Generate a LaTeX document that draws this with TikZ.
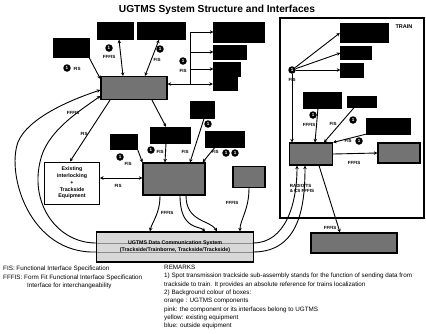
\documentclass[tikz,border=0pt]{standalone}
\usepackage{fontspec}
\setmainfont{Liberation Sans}
\usetikzlibrary{arrows.meta}
\begin{document}
\begin{tikzpicture}[x=1pt,y=-1pt,
  font=\fontsize{6.3}{8.3}\selectfont,
  blk/.style={draw=black,fill=black,inner sep=0pt},
  grb/.style={draw=black,line width=1.2pt,fill=black!55,inner sep=0pt},
  wbox/.style={draw=black,line width=1pt,fill=white,align=center,inner sep=1pt,font=\fontsize{5.3}{6.8}\selectfont\bfseries},
  num/.style={circle,fill=black,text=white,inner sep=0pt,minimum size=7.5pt,font=\fontsize{4.5}{4.5}\selectfont\bfseries},
  lbl/.style={inner sep=0.5pt,font=\fontsize{4.5}{5}\selectfont\bfseries},
  fl/.style={-{Stealth[length=3.5pt,width=3.5pt]},line width=0.9pt},
  fb/.style={{Stealth[length=3.5pt,width=3.5pt]}-{Stealth[length=3.5pt,width=3.5pt]},line width=0.9pt},
  ln/.style={line width=0.9pt}]
\useasboundingbox (0,0) rectangle (426,333);
\node[font=\fontsize{10.2}{11}\selectfont\bfseries] (title) at (217,10) {UGTMS System Structure and Interfaces};
% trackside
\node[blk,minimum width=36,minimum height=19] (a) at (71,48) {};
\node[blk,minimum width=36,minimum height=17] (b) at (115,31) {};
\node[blk,minimum width=48,minimum height=17] (c) at (161,31) {};
\node[grb,minimum width=66,minimum height=23] (g1) at (134,88) {};
\node[blk,minimum width=51,minimum height=20] (d) at (239,32) {};
\node[blk,minimum width=33,minimum height=14] (e) at (230,52) {};
\node[blk,minimum width=27,minimum height=14] (f) at (227,69) {};
\node[blk,minimum width=24,minimum height=13] (gb) at (225,84) {};
\node[wbox,minimum width=55,minimum height=42] (w) at (72,183) {Existing\\interlocking\\+\\Trackside\\Equipment};
\node[grb,minimum width=62,minimum height=32] (g3) at (174,179) {};
\node[blk,minimum width=40,minimum height=16] (h) at (170,135) {};
\node[blk,minimum width=27,minimum height=15] (i) at (124,142) {};
\node[blk,minimum width=24,minimum height=17] (j) at (202,110) {};
\node[blk,minimum width=39,minimum height=16] (k) at (225,139) {};
\node[grb,minimum width=32,minimum height=21] (l) at (249,177) {};
% train
\node[draw,line width=1.2pt,minimum width=144,minimum height=200,inner sep=0pt] (train) at (352,118) {};
\node[lbl,font=\fontsize{5.5}{6}\selectfont\bfseries] (trn) at (404,27) {TRAIN};
\node[blk,minimum width=48,minimum height=19] (m) at (364,33) {};
\node[blk,minimum width=31,minimum height=13] (n) at (356,53) {};
\node[blk,minimum width=23,minimum height=14] (o) at (352,70) {};
\node[grb,minimum width=43,minimum height=22] (g2) at (311,154) {};
\node[blk,minimum width=38,minimum height=16] (p) at (322,100) {};
\node[blk,minimum width=29,minimum height=11] (q) at (362,102) {};
\node[blk,minimum width=44,minimum height=16] (r) at (388,126) {};
\node[grb,minimum width=42,minimum height=20] (s) at (399,153) {};
\node[grb,minimum width=86,minimum height=20] (t) at (354,243) {};
% data communication system
\draw[ln] (96,243) -- (253,243);
\draw[ln] (96,252) -- (253,252);
\node[draw,line width=1.4pt,fill=black!22,fill opacity=0.7,text opacity=1,minimum width=157,minimum height=30,align=center,font=\fontsize{5.3}{6.8}\selectfont\bfseries] (dcs) at (175,247) {UGTMS Data Communication System\\(Trackside/Trainborne, Trackside/Trackside)};
% circled numbers
\node[num] (n1) at (67,68) {1};
\node[num] (n2) at (109,48) {1};
\node[num] (n3) at (160,49) {1};
\node[num] (n4) at (183,61) {1};
\node[num] (n5) at (120,157) {1};
\node[num] (n6) at (151,150) {1};
\node[num] (n7) at (208,124) {1};
\node[num] (n8) at (226,153) {1};
\node[num] (n9) at (235,153) {1};
\node[num] (n10) at (292,70) {1};
\node[num] (n11) at (313,115) {1};
\node[num] (n12) at (353,120) {1};
\node[num] (n13) at (359,141) {1};
% labels
\node[lbl] at (77,69) {FIS};
\node[lbl] at (109,57) {FFFIS};
\node[lbl] at (157,60) {FIS};
\node[lbl] at (183,71) {FIS};
\node[lbl] at (73,113) {FFFIS};
\node[lbl] at (84,134) {FIS};
\node[lbl] at (118,186) {FIS};
\node[lbl] at (128,164) {FIS};
\node[lbl] at (160,152) {FIS};
\node[lbl] at (185,152) {FIS};
\node[lbl] at (215,152) {FIS};
\node[lbl] at (167,213) {FFFIS};
\node[lbl] at (232,203) {FFFIS};
\node[lbl] at (292,80) {FIS};
\node[lbl] at (309,125) {FFFIS};
\node[lbl] at (333,124) {FIS};
\node[lbl] at (348,141) {FIS};
\node[lbl] at (354,163) {FFFIS};
\node[lbl,align=left] at (302,188) {RADIO/TS\\\& CS FFFIS};
\node[lbl] at (330,228) {FFFIS};
% trackside connectors
\draw[fl] (a.south east) -- ([yshift=9pt]g1.west);
\draw[fb] ([xshift=-11pt]g1.north) -- ([xshift=4pt]b.south);
\draw[fb] ([xshift=11pt]g1.north) -- ([xshift=-2pt]c.south);
\coordinate (brk) at (190,84);
\draw[fb] ([yshift=4pt]g1.east) -- (gb.west);
\draw[fl] (brk) |- (d.west);
\draw[fl] (brk |- e.west) -- (e.west);
\draw[fl] (brk |- f.west) -- (f.west);
\draw[fl] ([xshift=-24pt]g1.south) -- ([xshift=-2pt]w.north);
\draw[fl] ([xshift=18pt]g1.south) -- ([xshift=-4pt]h.north);
\draw[fb] (w.east |- 0,178) -- (g3.west |- 0,178);
\draw[fl] (i.south east) -- (g3.north west);
\draw[fl] ([xshift=-4pt]h.south) -- ([xshift=-9pt]g3.north);
\draw[fl] ([xshift=2pt]j.south) -- ([xshift=16pt]g3.north);
\draw[fl] ([xshift=-10pt]k.south) -- ([xshift=-3pt]g3.north east);
% links through data communication system
\draw[fl] (96,252) .. controls (30,254) and (6,175) .. (18,142) .. controls (28,118) and (70,100) .. ([yshift=-2pt]g1.west);
\draw[fl] (96,243) .. controls (58,243) and (30,205) .. (40,162) .. controls (46,132) and (78,112) .. ([yshift=-8pt]g1.west);
\draw[fl] (253,252) .. controls (300,252) and (305,205) .. ([xshift=-6pt]g2.south);
\draw[fl] (253,243) .. controls (285,243) and (297,205) .. ([xshift=-14pt]g2.south);
\draw[fl] ([xshift=-14pt]g3.south) .. controls (160,214) and (152,222) .. ([xshift=-25pt]dcs.north);
\draw[fl] ([xshift=6pt]g3.south) .. controls (180,230) and (200,226) .. ([xshift=30pt]dcs.north);
\draw[fl] ([xshift=12pt]g3.south) .. controls (186,222) and (210,220) .. ([xshift=42pt]dcs.north);
\draw[fl] (l.south) .. controls (249,210) and (240,220) .. ([xshift=65pt]dcs.north);
% train connectors
\draw[fl] (n10) -- (m.west);
\draw[fl] (n10) -- (n.west);
\draw[fl] (n10) -- (o.west);
\draw[fl] (n10) -- (n10 |- g2.north);
\draw[fl] ([xshift=-4pt]p.south) -- ([xshift=4pt]g2.north);
\draw[fl] ([xshift=-8pt]q.south) -- ([xshift=13pt]g2.north);
\draw[fl] (r.south west) -- (g2.north east);
\draw[fl] (g2.east) -- (s.west);
\draw[fl] ([xshift=8pt]g2.south) -- ([xshift=-14pt]t.north);
% legend and remarks
\node[anchor=north west,align=left,inner sep=0pt] (leg) at (3,266) {FIS: Functional Interface Specification\\FFFIS: Form Fit Functional Interface Specification\\\hspace*{24pt}Interface for interchangeability};
\node[anchor=north west,align=left,inner sep=0pt] (rem) at (164,265) {REMARKS\\1) Spot transmission trackside sub-assembly stands for the function of sending data from\\trackside to train. It provides an absolute reference for trains localization\\2) Background colour of boxes:\\orange : UGTMS components\\pink: the component or its interfaces belong to UGTMS\\yellow: existing equipment\\blue: outside equipment};
\end{tikzpicture}
\end{document}
